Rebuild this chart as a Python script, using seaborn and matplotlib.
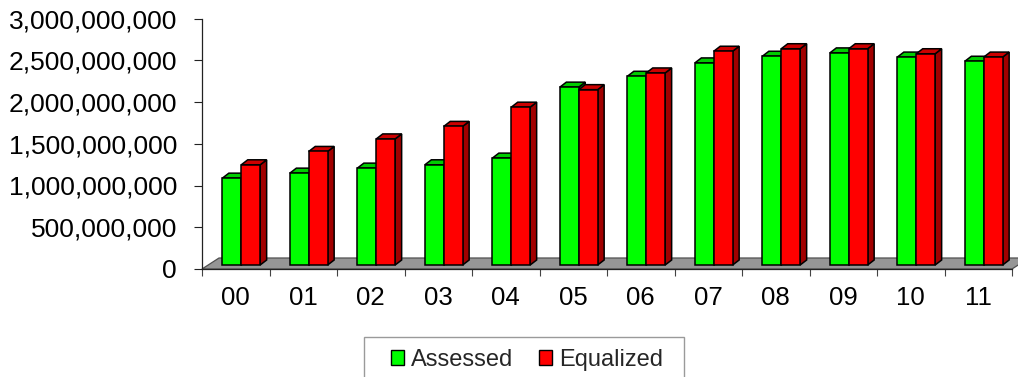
import matplotlib
matplotlib.use("Agg")
import matplotlib.pyplot as plt
import seaborn as sns
import pandas as pd
import numpy as np
from matplotlib.patches import Polygon, Patch, Rectangle
from matplotlib.transforms import ScaledTranslation
from matplotlib.ticker import StrMethodFormatter, FixedLocator, NullFormatter

# ---- data ----
years = ["00", "01", "02", "03", "04", "05", "06", "07", "08", "09", "10", "11"]
assessed = [1.04e9, 1.10e9, 1.16e9, 1.20e9, 1.28e9, 2.13e9,
            2.26e9, 2.42e9, 2.50e9, 2.54e9, 2.49e9, 2.44e9]
equalized = [1.20e9, 1.36e9, 1.51e9, 1.66e9, 1.89e9, 2.10e9,
             2.30e9, 2.56e9, 2.59e9, 2.59e9, 2.53e9, 2.49e9]
series_names = ["Assessed", "Equalized"]
y_ticks = [0, 5e8, 1e9, 1.5e9, 2e9, 2.5e9, 3e9]

front_colors = {"Assessed": "#00FF00", "Equalized": "#FF0000"}

sns.set_theme(style="white")
plt.rcParams["font.family"] = ["Liberation Sans", "DejaVu Sans"]

W, H = 1018, 377
fig = plt.figure(figsize=(W / 100, H / 100), dpi=100)
ax = fig.add_axes([202 / W, 1 - 269 / H, 810 / W, 250.5 / H])

df = pd.DataFrame({
    "Year": years * 2,
    "Value": assessed + equalized,
    "Series": [series_names[0]] * len(years) + [series_names[1]] * len(years),
})

sns.barplot(data=df, x="Year", y="Value", hue="Series", hue_order=series_names,
            palette=front_colors, saturation=1, width=0.56, errorbar=None,
            edgecolor="black", linewidth=1.1, legend=False, ax=ax)

ax.set_xlim(-0.5, len(years) - 0.5)
ax.set_ylim(0, 3e9)
ax.set_xlabel("")
ax.set_ylabel("")

# pixel -> data scale factors for the pseudo-3D depth
fig.canvas.draw()
bb_ax = ax.get_window_extent()
xs = bb_ax.width / (len(years))
ys = bb_ax.height / 3e9

# bars sit a little behind the front edge of the floor
shift = ax.transData + ScaledTranslation(5.5 / 100, 4 / 100, fig.dpi_scale_trans)
ddx, ddy = 6.5 / xs, 5 / ys

bars = sorted(ax.patches, key=lambda p: p.get_x())
for i, p in enumerate(bars):
    z = 3 + i * 0.01
    rgb = np.array(p.get_facecolor()[:3])
    x0, w, h = p.get_x(), p.get_width(), p.get_height()
    p.set_transform(shift)
    p.set_zorder(z + 0.002)
    top = Polygon([(x0, h), (x0 + w, h), (x0 + w + ddx, h + ddy), (x0 + ddx, h + ddy)],
                  closed=True, transform=shift, facecolor=tuple(rgb * 0.8),
                  edgecolor="black", linewidth=1.1, zorder=z + 0.001)
    side = Polygon([(x0 + w, 0), (x0 + w + ddx, ddy), (x0 + w + ddx, h + ddy), (x0 + w, h)],
                   closed=True, transform=shift, facecolor=tuple(rgb * 0.63),
                   edgecolor="black", linewidth=1.1, zorder=z)
    ax.add_patch(side)
    ax.add_patch(top)

# grey floor
fdx, fdy = 17 / xs, 11 / ys
floor = Polygon([(-0.5, 0), (len(years) - 0.5, 0),
                 (len(years) - 0.5 + fdx, fdy), (-0.5 + fdx, fdy)],
                closed=True, facecolor="#969696", edgecolor="#505050",
                linewidth=0.9, zorder=1, clip_on=False)
ax.add_patch(floor)

# spines and ticks
for s in ["top", "right"]:
    ax.spines[s].set_visible(False)
ax.spines["left"].set_color("#222222")
ax.spines["left"].set_linewidth(0.9)
ax.spines["bottom"].set_color("#222222")
ax.spines["bottom"].set_linewidth(0.9)

ax.set_yticks(y_ticks)
ax.yaxis.set_major_formatter(StrMethodFormatter("{x:,.0f}"))
ax.tick_params(axis="y", left=True, length=6, width=0.8, color="#222222",
               pad=12, labelsize=19, labelcolor="black")

ax.xaxis.set_major_locator(FixedLocator(np.arange(-0.5, len(years), 1.0)))
ax.xaxis.set_major_formatter(NullFormatter())
ax.set_xticks(range(len(years)), labels=years, minor=True)
ax.tick_params(axis="x", which="major", bottom=True, length=5, width=0.8,
               color="#444444")
ax.tick_params(axis="x", which="minor", bottom=True, length=0, pad=12,
               labelsize=18.5, labelcolor="black")

# legend
handles = [Patch(facecolor=front_colors[n], edgecolor="black", linewidth=1.0)
           for n in series_names]
leg = fig.legend(handles, series_names, loc="upper center",
                 bbox_to_anchor=(0.518, 1 - 337 / H), ncol=2, frameon=False,
                 fontsize=17, handlelength=0.55, handleheight=0.55,
                 handletextpad=0.3, columnspacing=1.1, borderpad=0)

fig.canvas.draw()
lb = leg.get_window_extent()
frame = Rectangle(((lb.x0 - 27) / W, -0.2), (lb.width + 47) / W, 0.2 + 1 - 337 / H,
                  transform=fig.transFigure, facecolor="none",
                  edgecolor="#9a9a9a", linewidth=1.0)
fig.add_artist(frame)

fig.savefig("out.png", dpi=100)
